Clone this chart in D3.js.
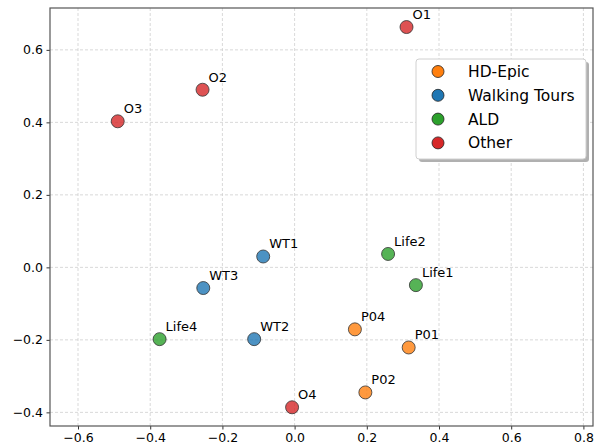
<!DOCTYPE html>
<html>
<head>
<meta charset="utf-8">
<script src="https://cdn.jsdelivr.net/npm/d3@7"></script>
<style>
  body { margin: 0; background: #fff; }
  text { font-family: "DejaVu Sans", sans-serif; fill: #000; }
</style>
</head>
<body>
<svg id="chart" width="596" height="445"></svg>
<script>
// points
var names  = ["O1", "O2", "O3", "WT1", "WT3", "WT2", "Life4", "O4", "Life2", "Life1", "P04", "P01", "P02"];
var xs     = [0.310, -0.255, -0.490, -0.087, -0.253, -0.112, -0.374, -0.007, 0.259, 0.336, 0.167, 0.316, 0.196];
var ys     = [0.663, 0.490, 0.403, 0.030, -0.057, -0.198, -0.198, -0.386, 0.037, -0.049, -0.171, -0.221, -0.345];
var groups = ["Other", "Other", "Other", "Walking Tours", "Walking Tours", "Walking Tours", "ALD", "Other", "ALD", "ALD", "HD-Epic", "HD-Epic", "HD-Epic"];

var legendNames  = ["HD-Epic", "Walking Tours", "ALD", "Other"];
var legendColors = ["#ff7f0e", "#1f77b4", "#2ca02c", "#d62728"];
var xTicks = [-0.6, -0.4, -0.2, 0.0, 0.2, 0.4, 0.6, 0.8];
var yTicks = [-0.4, -0.2, 0.0, 0.2, 0.4, 0.6];

var pl = 50, pr = 593, pt = 8, pb = 426;
var svg = d3.select("#chart");

var x = d3.scaleLinear().domain([-0.6776, 0.8266]).range([pl, pr]);
var y = d3.scaleLinear().domain([-0.4376, 0.7155]).range([pb, pt]);
var color = d3.scaleOrdinal().domain(legendNames).range(legendColors);

function fmt(v) { return d3.format(".1f")(v).replace("-", "\u2212"); }

// grid
var grid = svg.append("g");
grid.selectAll(".gx").data(xTicks).enter().append("line")
  .attr("x1", d => x(d)).attr("x2", d => x(d))
  .attr("y1", pt).attr("y2", pb)
  .attr("stroke", "#cfcfcf").attr("stroke-width", 0.8)
  .attr("stroke-dasharray", "3,2");
grid.selectAll(".gy").data(yTicks).enter().append("line")
  .attr("x1", pl).attr("x2", pr)
  .attr("y1", d => y(d)).attr("y2", d => y(d))
  .attr("stroke", "#cfcfcf").attr("stroke-width", 0.8)
  .attr("stroke-dasharray", "3,2");

// axes
var xAxis = svg.append("g").attr("transform", "translate(0," + pb + ")")
  .call(d3.axisBottom(x).tickValues(xTicks).tickFormat(fmt).tickSize(3.5).tickPadding(3.5));
var yAxis = svg.append("g").attr("transform", "translate(" + pl + ",0)")
  .call(d3.axisLeft(y).tickValues(yTicks).tickFormat(fmt).tickSize(3.5).tickPadding(3.5));
[xAxis, yAxis].forEach(function (a) {
  a.select(".domain").remove();
  a.attr("font-size", 12.5).attr("font-family", "DejaVu Sans");
  a.selectAll("text").attr("fill", "#000");
  a.selectAll("line").attr("stroke", "#333");
});

svg.append("rect")
  .attr("x", pl).attr("y", pt)
  .attr("width", pr - pl).attr("height", pb - pt)
  .attr("fill", "none").attr("stroke", "#555").attr("stroke-width", 1.2);

// points
var pts = names.map((n, i) => ({ name: n, x: xs[i], y: ys[i], g: groups[i] }));
svg.selectAll(".pt").data(pts).enter().append("circle")
  .attr("cx", d => x(d.x)).attr("cy", d => y(d.y)).attr("r", 6.5)
  .attr("fill", d => color(d.g)).attr("fill-opacity", 0.8)
  .attr("stroke", "#333").attr("stroke-width", 0.8);

svg.selectAll(".lbl").data(pts).enter().append("text")
  .attr("x", d => x(d.x) + 6).attr("y", d => y(d.y) - 8)
  .style("font-size", "13px")
  .text(d => d.name);

// legend
var lg = svg.append("g").attr("transform", "translate(416,59)");
lg.append("rect").attr("x", 3).attr("y", 3).attr("width", 170).attr("height", 100)
  .attr("rx", 3).attr("fill", "#b0b0b0");
lg.append("rect").attr("width", 170).attr("height", 100).attr("rx", 3)
  .attr("fill", "#fff").attr("stroke", "#d0d0d0").attr("stroke-width", 1);
var rows = lg.selectAll(".row").data(legendNames).enter().append("g")
  .attr("transform", (d, i) => "translate(0," + (12.5 + i * 23.8) + ")");
rows.append("circle").attr("cx", 22).attr("r", 6)
  .attr("fill", d => color(d)).attr("stroke", "#222").attr("stroke-width", 0.8);
rows.append("text").attr("x", 52).attr("dy", "0.35em")
  .style("font-size", "15.5px").text(d => d);
</script>
</body>
</html>
